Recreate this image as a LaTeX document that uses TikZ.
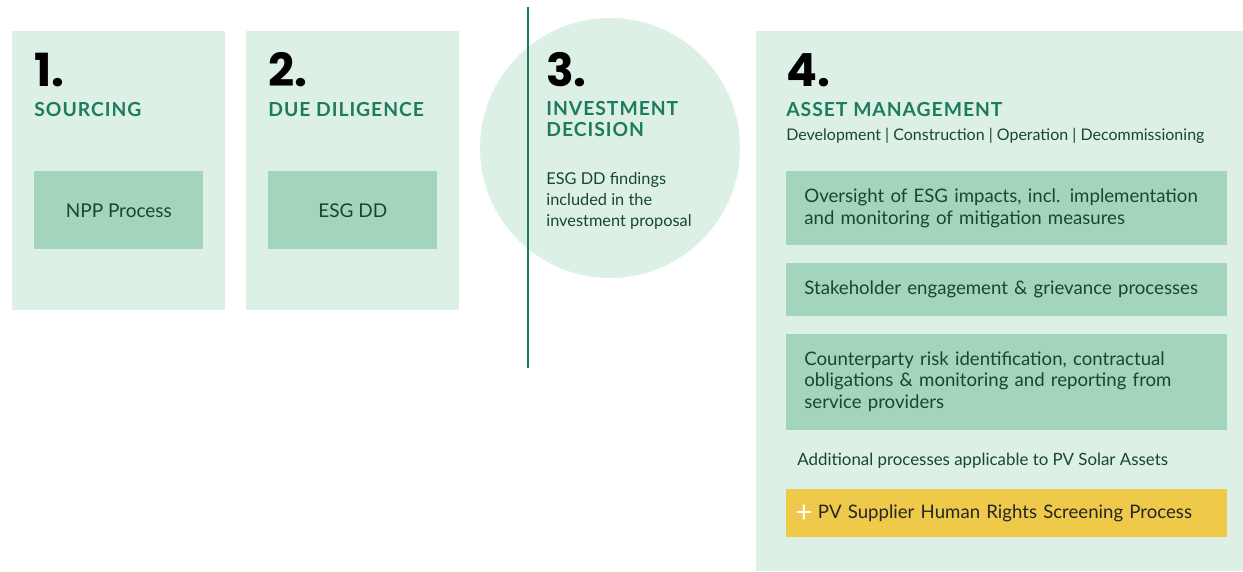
\documentclass[tikz,border=0pt]{standalone}
\usepackage{fontspec}
\setmainfont{Lato}
\newfontfamily\numfont{Poppins}
\usetikzlibrary{positioning}
\definecolor{esglight}{HTML}{DCF0E6}
\definecolor{esgmid}{HTML}{A3D4BC}
\definecolor{esgteal}{HTML}{1D7B5E}
\definecolor{esgdark}{HTML}{17472F}
\definecolor{esgyellow}{HTML}{EFCA4A}

\begin{document}
\begin{tikzpicture}[x=0.02cm, y=-0.02cm,
  stage/.style={rectangle, fill=esglight, anchor=north west, inner sep=0pt,
                minimum width=4.26cm, minimum height=5.58cm},
  task/.style={rectangle, fill=esgmid, text=esgdark, anchor=north west,
               minimum width=3.38cm, minimum height=1.56cm,
               font=\fontsize{10.8}{12}\selectfont},
  item/.style={rectangle, fill=esgmid, text=esgdark, anchor=north west,
               text width=8.1cm, inner xsep=0.36cm, align=left,
               font=\fontsize{10.6}{12}\selectfont},
  num/.style={anchor=base west, inner sep=0pt,
              font=\numfont\bfseries\fontsize{26}{26}\selectfont},
  head/.style={anchor=base west, inner sep=0pt, text=esgteal, align=left,
               font=\fontsize{11}{11.4}\selectfont\bfseries\addfontfeature{LetterSpace=5}},
  note/.style={anchor=base west, inner sep=0pt, text=esgdark, align=left,
               font=\fontsize{9.3}{11.7}\selectfont}]
  \useasboundingbox (0,0) rectangle (1243,571);
  \node[stage] (sourcing) at (12,31) {};
  \node[stage] (duedil) at (246,31) {};
  \node[circle, fill=esglight, minimum size=5.2cm, inner sep=0pt] (decision) at (610,148) {};
  \node[stage, minimum width=9.74cm, minimum height=10.8cm] (assets) at (756,31) {};
  \coordinate (divtop) at (528,7);
  \coordinate (divbot) at (528,368);
  \draw[esgteal, line width=0.8pt] (divtop) -- (divbot);

  \node[num] (n1) at (34,87) {1.};
  \node[head] (h1) at (34,116) {SOURCING};
  \node[task] (npp) at (34,171) {NPP Process};

  \node[num] (n2) at (268,87) {2.};
  \node[head] (h2) at (268,116) {DUE DILIGENCE};
  \node[task] (esgdd) at (268,171) {ESG DD};

  \node[num] (n3) at (546,87) {3.};
  \node[head] (h3) at (546,136) {INVESTMENT\\DECISION};
  \node[note] (findings) at (546,226) {ESG DD findings\\included in the\\investment proposal};

  \node[num] (n4) at (786,87) {4.};
  \node[head] (h4) at (786,116) {ASSET MANAGEMENT};
  \node[note, font=\fontsize{9.1}{10}\selectfont] (phases) at (786,140)
    {Development | Construction | Operation | Decommissioning};
  \node[item, minimum height=1.48cm] (oversight) at (786,171)
    {Oversight of ESG impacts, incl. implementation\\and monitoring of mitigation measures};
  \node[item, minimum height=1.06cm, below=0.34cm of oversight] (stake)
    {Stakeholder engagement \& grievance processes};
  \node[item, minimum height=1.92cm, below=0.34cm of stake] (counter)
    {Counterparty risk identification, contractual\\obligations \& monitoring and reporting from\\service providers};
  \node[note, font=\fontsize{9.6}{11}\selectfont] (additional) at (797,465)
    {Additional processes applicable to PV Solar Assets};
  \node[item, fill=esgyellow, text=black!85, minimum height=0.96cm, inner xsep=0.18cm,
        text width=8.46cm] (pvscreen) at (786,489)
    {\raisebox{-2.5pt}{\color{white}\fontsize{17}{12}\selectfont +}\hspace{3pt}PV Supplier Human Rights Screening Process};
\end{tikzpicture}
\end{document}
